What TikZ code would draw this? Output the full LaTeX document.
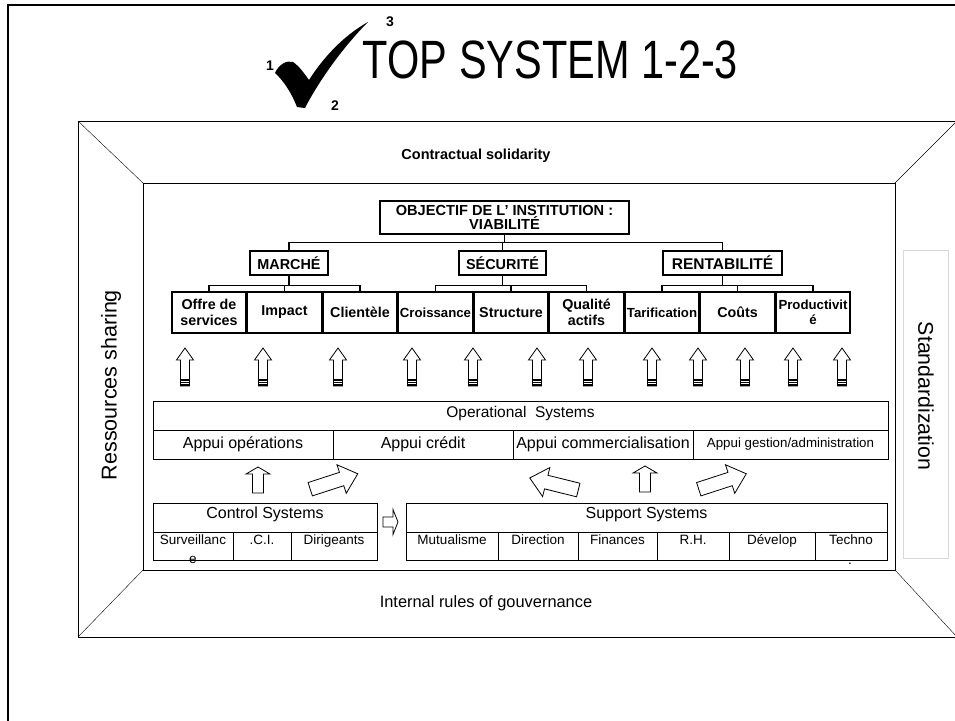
\documentclass[tikz,border=0pt]{standalone}
\usepackage{fontspec}
\setmainfont{Liberation Sans}
\usepackage{graphicx}
\usepackage{tikz}
\newcommand\fsz[2]{\fontsize{#1}{#2}\selectfont}
\tikzset{
  goalbox/.style = 	{shape=rectangle, draw, line width=1.2pt,
				align=center, inner sep=1pt,
				font=\bfseries\fsz{14.6}{14.6}},
  pillar/.style = 	{goalbox, minimum height=24pt, font=\bfseries\fsz{14.4}{16}},
  leaf/.style = 	{goalbox, minimum width=74pt, minimum height=41pt,
				font=\bfseries\fsz{14.3}{16}},
  smallleaf/.style = 	{leaf, font=\bfseries\fsz{13.2}{15}},
  sysrow/.style = 	{shape=rectangle, draw, line width=0.8pt, inner sep=0pt,
				minimum height=29pt, text height=12pt, text depth=10pt,
				font=\fsz{15.5}{18}},
  appui/.style = 	{shape=rectangle, draw, line width=0.8pt, inner sep=0pt,
				minimum width=180pt, minimum height=29pt, font=\fsz{16}{18}},
  cell/.style = 	{shape=rectangle, draw, line width=0.8pt, inner sep=0pt,
				minimum height=28pt, text height=9.5pt, text depth=13.5pt,
				font=\fsz{13.5}{15}},
  liftarrow/.pic = 	{\draw[line width=0.8pt, fill=white] (0,-19) -- (8.5,-7) -- (4.5,-7)
				-- (4.5,19) -- (-4.5,19) -- (-4.5,-7) -- (-8.5,-7) -- cycle;
			 \foreach \s in {13,15.5,18}
				\draw[line width=1.3pt] (-4.5,\s) -- (4.5,\s);},
  pusharrow/.pic = 	{\draw[line width=0.8pt, fill=white] (0,-13) -- (12,-6) -- (5.5,-6)
				-- (5.5,13) -- (-5.5,13) -- (-5.5,-6) -- (-12,-6) -- cycle;},
  slantarrow/.pic = 	{\draw[line width=0.8pt, fill=white] (25,0) -- (8,-15) -- (8,-7)
				-- (-25,-7) -- (-25,7) -- (8,7) -- (8,15) -- cycle;},
}

\begin{document}
\begin{tikzpicture}
	[
		x                   = 1pt,
		y                   = -1pt,
		every node/.style   = {inner sep=1pt}
	]
	\useasboundingbox (0,0) rectangle (955,720);
	\clip (0,0) rectangle (955,720);
	\draw[line width=2.5pt] (8,5) rectangle (1000,800);

	% title
	\fill (275,73) .. controls (279,64) and (287,60) .. (293,62)
		.. controls (299,66) and (304,73) .. (309,80)
		.. controls (323,58) and (343,36) .. (368,22)
		.. controls (348,42) and (322,75) .. (305,108) -- (297,107)
		.. controls (292,94) and (284,81) .. (275,73) -- cycle;
	\node[font=\bfseries\fsz{14}{16}] (one) at (270,66) {1};
	\node[font=\bfseries\fsz{14}{16}] (two) at (335,106) {2};
	\node[font=\bfseries\fsz{14}{16}] (three) at (390,22) {3};
	\node[anchor=base, font=\fsz{41.5}{48}] (title) at (550.5,78)
		{\scalebox{1}[1.3]{TOP SYSTEM 1-2-3}};

	% frame
	\draw[line width=0.9pt] (78,121) rectangle (957,637);
	\draw[line width=0.9pt] (143,183) rectangle (895,570);
	\draw (78,121) -- (143,183) (957,121) -- (895,183)
		(78,637) -- (143,570) (957,637) -- (895,570);
	\node[font=\bfseries\fsz{14.5}{17}] (solid) at (476,156) {Contractual solidarity};
	\node[font=\fsz{16.4}{19}] (rules) at (486,603) {Internal rules of gouvernance};
	\node[rotate=90, font=\fsz{21.5}{24}] (share) at (111,385) {Ressources sharing};
	\node[draw=gray!30, line width=0.8pt, minimum width=45pt, minimum height=308pt,
		inner sep=0pt] (stdbox) at (925.5,404) {};
	\node[rotate=-90, font=\fsz{21.3}{24}] (std) at (926,396) {Standardization};

	% objectives
	\node[goalbox, minimum width=249pt, minimum height=33pt] (root) at (504.5,217.5)
		{OBJECTIF DE L' INSTITUTION :\\VIABILITÉ};
	\node[pillar, minimum width=78pt] (march) at (289,263) {MARCHÉ};
	\node[pillar, minimum width=87pt] (secu) at (502.5,263) {SÉCURITÉ};
	\node[pillar, minimum width=119pt, font=\bfseries\fsz{15.5}{17}] (rent) at (722.5,263) {RENTABILITÉ};
	\foreach \nm/\st/\txt [count=\i from 0] in {offre/leaf/Offre de\\services,
		impact/leaf/Impact, client/leaf/Clientèle, crois/smallleaf/Croissance,
		struct/leaf/Structure, qual/leaf/Qualité\\actifs, tarif/smallleaf/Tarification,
		cout/leaf/Coûts, prod/smallleaf/Productivit\\é}
		\node[\st] (\nm) at (209+75.5*\i,312.5) {\txt};

	\draw[line width=1.2pt] (root.south) -- ++(0,8) coordinate (hub);
	\foreach \g in {march,secu,rent}
		\draw[line width=1.2pt] (\g.north) |- (hub);
	\foreach \g/\a/\b/\c in {march/offre/impact/client, secu/crois/struct/qual,
		rent/tarif/cout/prod}
	{
		\draw[line width=1.2pt] (\g.south) -- ++(0,10) coordinate (fork);
		\draw[line width=1.2pt] (\a.north) |- (fork) -| (\c.north);
		\draw[line width=1.2pt] (\b.north) -- (\b.north |- fork);
	}

	\foreach \x in {185,263,338,412,473,537,588,652,698,745,793,842}
		\pic at (\x,367) {liftarrow};

	% operational systems
	\node[sysrow, minimum width=735pt] (ops) at (520.5,416) {Operational\ \ Systems};
	\foreach \nm/\txt [count=\i from 0] in {aop/Appui opérations,
		acr/Appui crédit, aco/Appui commercialisation}
		\node[appui] (\nm) at (243+180*\i,444.5) {\txt};
	\node[appui, minimum width=195pt, font=\fsz{13.3}{15}] (ages) at (790.5,444.5)
		{Appui gestion/administration};

	\pic at (258,480) {pusharrow};
	\pic at (645,479) {pusharrow};
	\pic[rotate=18] at (334,481.5) {slantarrow};
	\pic[rotate=18] at (722.5,481.5) {slantarrow};
	\pic[rotate=166] at (554,484) {slantarrow};

	% control systems
	\node[sysrow, minimum width=224pt, font=\fsz{16}{18}] (ctrl) at (265,517.5) {Control Systems};
	\node[cell, minimum width=80pt] (surv) at (193,546) {Surveillanc};
	\node[cell, minimum width=58pt] (ci) at (262,546) {.C.I.};
	\node[cell, minimum width=86pt] (dirig) at (334,546) {Dirigeants};
	\node[anchor=base, font=\fsz{13.5}{15}] (survtail) at (193,563) {e};

	\draw[line width=0.8pt, fill=white] (398,522) -- (393,509.5) -- (393,517) -- (383,517)
		-- (383,527) -- (393,527) -- (393,534.5) -- cycle;

	% support systems
	\node[sysrow, minimum width=481pt, font=\fsz{16}{18}] (supp) at (646.5,517.5) {Support Systems};
	\node[cell, minimum width=92pt] (mutu) at (452,546) {Mutualisme};
	\node[cell, minimum width=80pt] (direc) at (538,546) {Direction};
	\node[cell, minimum width=79pt] (fin) at (617.5,546) {Finances};
	\node[cell, minimum width=72pt] (rh) at (693,546) {R.H.};
	\node[cell, minimum width=86pt] (dev) at (772,546) {Dévelop};
	\node[cell, minimum width=72pt] (tech) at (851,546) {Techno};
	\node[anchor=base, font=\fsz{13.5}{15}] (techdot) at (850,564) {.};
\end{tikzpicture}
\end{document}
